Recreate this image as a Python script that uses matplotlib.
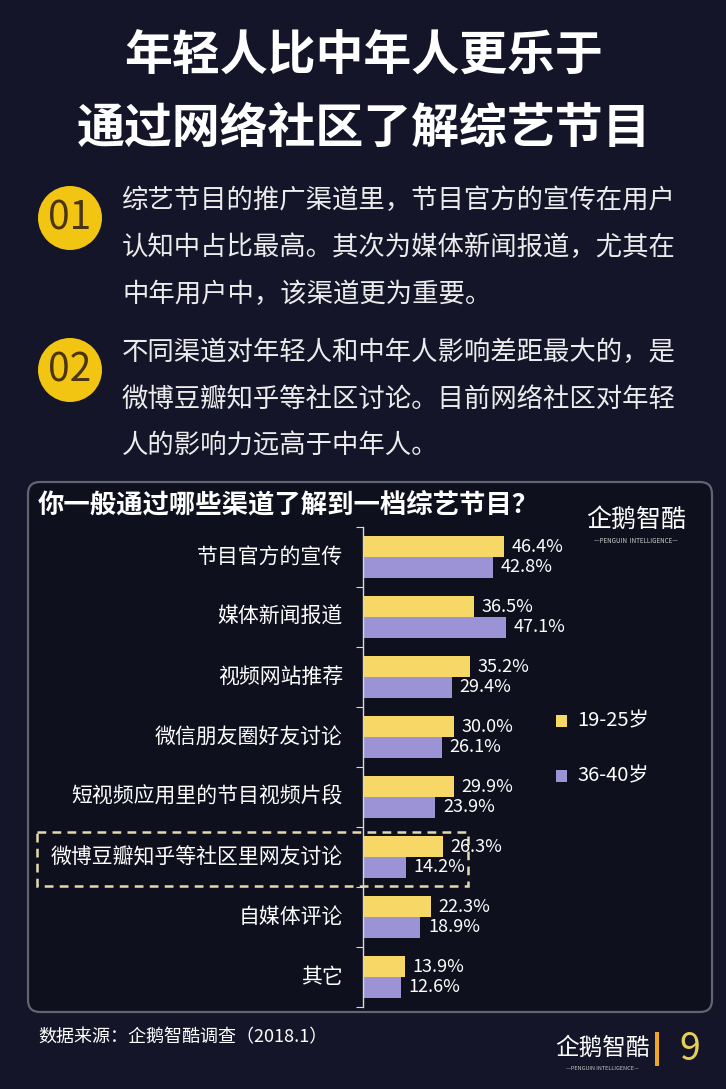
import matplotlib
matplotlib.use('Agg')
import matplotlib.pyplot as plt
from matplotlib.patches import Circle, FancyBboxPatch, Rectangle

plt.rcParams['font.family'] = ['Noto Sans CJK SC', 'DejaVu Sans']

# data
categories = ['节目官方的宣传', '媒体新闻报道', '视频网站推荐', '微信朋友圈好友讨论',
              '短视频应用里的节目视频片段', '微博豆瓣知乎等社区里网友讨论', '自媒体评论', '其它']
young = [46.4, 36.5, 35.2, 30.0, 29.9, 26.3, 22.3, 13.9]
middle = [42.8, 47.1, 29.4, 26.1, 23.9, 14.2, 18.9, 12.6]
series_names = ['19-25岁', '36-40岁']

title_lines = ['年轻人比中年人更乐于', '通过网络社区了解综艺节目']
point1 = ['综艺节目的推广渠道里，节目官方的宣传在用户',
          '认知中占比最高。其次为媒体新闻报道，尤其在',
          '中年用户中，该渠道更为重要。']
point2 = ['不同渠道对年轻人和中年人影响差距最大的，是',
          '微博豆瓣知乎等社区讨论。目前网络社区对年轻',
          '人的影响力远高于中年人。']
chart_title = '你一般通过哪些渠道了解到一档综艺节目？'
source = '数据来源：企鹅智酷调查（2018.1）'

BG = '#141529'
PANEL = '#0f101e'
YELLOW = '#f7d866'
PURPLE = '#9b93d5'
W, H = 726, 1089

fig = plt.figure(figsize=(W / 100, H / 100), dpi=100, facecolor=BG)

# background layer in pixel coordinates
bg = fig.add_axes([0, 0, 1, 1])
bg.set_xlim(0, W)
bg.set_ylim(H, 0)
bg.axis('off')
bg.set_facecolor(BG)

for i, line in enumerate(title_lines):
    bg.text(W / 2 + 1, 55 + i * 73, line, ha='center', va='center', fontsize=34.5,
            fontweight='bold', color='white')

for cy, lines, num in [(218, point1, '01'), (370, point2, '02')]:
    bg.add_patch(Circle((70, cy), 32, facecolor='#f2c512', edgecolor='none'))
    bg.text(70, cy + 1, num, ha='center', va='center', fontsize=28, color='#4b3510')
    for j, line in enumerate(lines):
        bg.text(122, cy - 18 + j * 47, line, ha='left', va='center', fontsize=19,
                color='#ececec')

bg.add_patch(FancyBboxPatch((28, 482), 684, 530, boxstyle='round,pad=0,rounding_size=12',
                            facecolor=PANEL, edgecolor='#62656f', lw=1.6))
bg.text(38, 505, chart_title, ha='left', va='center', fontsize=19, fontweight='bold',
        color='white')

# logo (upper right)
bg.text(636, 520, '企鹅智酷', ha='center', va='center', fontsize=18, color='white')
bg.text(636, 541, '—PENGUIN  INTELLIGENCE—', ha='center', va='center', fontsize=4.5,
        color='#d0d0d0')

# footer
bg.text(38, 1037, source, ha='left', va='center', fontsize=13, color='white')
bg.text(602, 1048, '企鹅智酷', ha='center', va='center', fontsize=17, color='white')
bg.text(602, 1068, '—PENGUIN INTELLIGENCE—', ha='center', va='center', fontsize=4,
        color='#c8c8c8')
bg.add_patch(Rectangle((655, 1032), 4, 34, facecolor='#f0a820', edgecolor='none'))
bg.text(690, 1050, '9', ha='center', va='center', fontsize=27, color='#e6cf55')

# legend
for k, (name, col) in enumerate(zip(series_names, [YELLOW, PURPLE])):
    y = 721 + k * 55
    bg.add_patch(Rectangle((556, y - 6), 11, 12, facecolor=col, edgecolor='none'))
    bg.text(577, y, name, ha='left', va='center', fontsize=14.5, color='white')

# bar chart
ax = fig.add_axes([363 / W, 1 - 1007 / H, 182 / W, 480 / H])
ax.set_facecolor('none')
n = len(categories)
pos = [i + 0.5 for i in range(n)]
off = 0.175
hgt = 0.335
ax.barh([p - off for p in pos], young, height=hgt, color=YELLOW)
ax.barh([p + off for p in pos], middle, height=hgt, color=PURPLE)
ax.set_xlim(0, 60)
ax.set_ylim(n, 0)
for p, a, b in zip(pos, young, middle):
    ax.text(a + 2.5, p - off, f'{a:.1f}%', ha='left', va='center', fontsize=13,
            color='white', clip_on=False)
    ax.text(b + 2.5, p + off, f'{b:.1f}%', ha='left', va='center', fontsize=13,
            color='white', clip_on=False)
for p, c in zip(pos, categories):
    ax.text(-6.6, p, c, ha='right', va='center', fontsize=15, color='white')

for s in ['top', 'right', 'bottom']:
    ax.spines[s].set_visible(False)
ax.spines['left'].set_color('#d8d8d8')
ax.spines['left'].set_linewidth(1)
ax.set_xticks([])
ax.set_yticks(range(n + 1))
ax.set_yticklabels([])
ax.tick_params(axis='y', length=5, color='#d8d8d8', direction='out')

# dashed highlight around the community row
bg.add_patch(Rectangle((37, 832), 431, 54, facecolor='none', edgecolor='#e4dbad',
                       lw=1.8, linestyle=(0, (3.5, 2.5)), zorder=5))

fig.savefig('out.png', dpi=100, facecolor=BG)
